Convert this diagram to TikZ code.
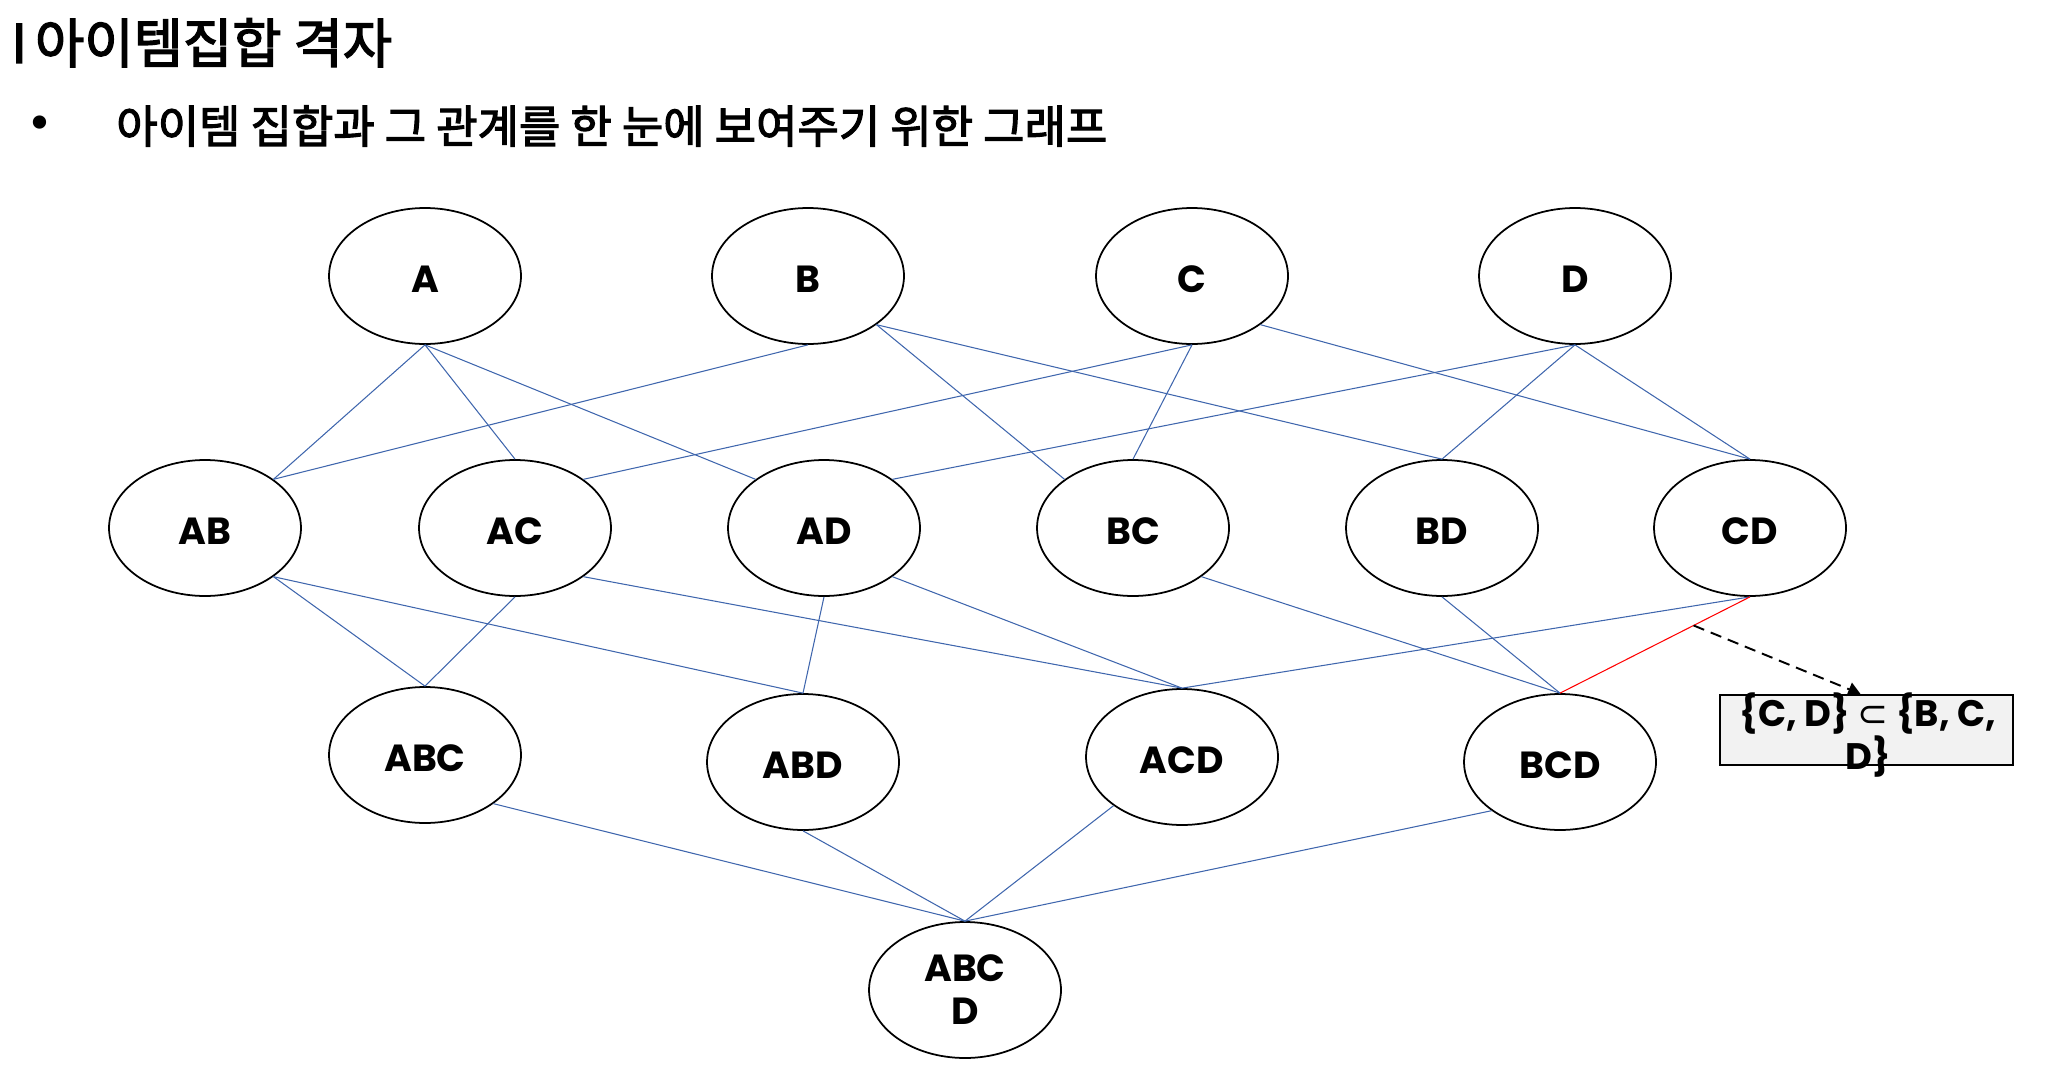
\documentclass[tikz,border=0pt]{standalone}
\usepackage{fontspec}
\setmainfont{Poppins}
\newfontfamily\kr{Noto Sans CJK KR}[FakeBold=2.5]
\newfontfamily\djv{DejaVu Sans}
\usetikzlibrary{arrows.meta,calc,shapes.geometric}
\definecolor{edgeblue}{HTML}{3F66AD}
\definecolor{notegray}{HTML}{F2F2F2}
\begin{document}
\begin{tikzpicture}[x=0.02cm,y=-0.02cm,
  setbase/.style={ellipse, draw=black, line width=1pt, minimum width=3.84cm,
    minimum height=2.72cm, inner sep=0pt, align=center,
    font=\fontsize{21.5}{24.4}\selectfont\bfseries},
  setnode/.style={setbase, text height=18.5pt, text depth=0pt},
  link/.style={draw=edgeblue, line width=0.6pt},
  hot/.style={draw=red, line width=0.6pt},
  notebox/.style={draw=black, fill=notegray, line width=1.2pt, minimum width=5.86cm,
    minimum height=1.4cm, inner sep=0pt},
  notetext/.style={align=center, inner sep=0pt, font=\fontsize{21}{24.4}\selectfont\bfseries}]
\useasboundingbox (0,0) rectangle (2064,1078);
% title
\node[anchor=base west, inner sep=0pt, font=\kr\fontsize{30.5}{33}\selectfont] (title) at (11,63) {I\hskip0.15em 아이템집합 격자};
\node[anchor=center, inner sep=0pt, font=\djv\fontsize{26}{28}\selectfont] (dot) at (40,128) {•};
\node[anchor=base west, inner sep=0pt, font=\kr\fontsize{25.6}{28}\selectfont] (sub) at (116,143) {아이템 집합과 그 관계를 한 눈에 보여주기 위한 그래프};
% nodes
\node[setnode] (A) at (425,276) {A};
\node[setnode] (B) at (808,276) {B};
\node[setnode] (C) at (1192,276) {C};
\node[setnode] (D) at (1575,276) {D};
\node[setnode] (AB) at (205,528) {AB};
\node[setnode] (AC) at (515,528) {AC};
\node[setnode] (AD) at (824,528) {AD};
\node[setnode] (BC) at (1133,528) {BC};
\node[setnode] (BD) at (1442,528) {BD};
\node[setnode] (CD) at (1750,528) {CD};
\node[setnode] (ABC) at (425,755) {ABC};
\node[setnode] (ABD) at (803,762) {ABD};
\node[setnode] (ACD) at (1182,757) {ACD};
\node[setnode] (BCD) at (1560,762) {BCD};
\node[setbase] (ABCD) at (965,990) {ABC\\D};
% edges level 1-2
\draw[link] (A.south) -- (AB.north east);
\draw[link] (A.south) -- (AC.north);
\draw[link] (A.south) -- (AD.north west);
\draw[link] (B.south) -- (AB.north east);
\draw[link] (B.south east) -- (BC.north west);
\draw[link] (B.south east) -- (BD.north);
\draw[link] (C.south) -- (AC.north east);
\draw[link] (C.south) -- (BC.north);
\draw[link] (C.south east) -- (CD.north);
\draw[link] (D.south) -- (AD.north east);
\draw[link] (D.south) -- (BD.north);
\draw[link] (D.south) -- (CD.north);
% edges level 2-3
\draw[link] (AB.south east) -- (ABC.north);
\draw[link] (AB.south east) -- (ABD.north);
\draw[link] (AC.south) -- (ABC.north);
\draw[link] (AC.south east) -- (ACD.north);
\draw[link] (AD.south) -- (ABD.north);
\draw[link] (AD.south east) -- (ACD.north);
\draw[link] (BC.south east) -- (BCD.north);
\draw[link] (BD.south) -- (BCD.north);
\draw[link] (CD.south) -- (ACD.north);
\draw[hot] (CD.south) -- coordinate[pos=0.297] (hotmark) (BCD.north);
% edges level 3-4
\draw[link] (ABC.south east) -- (ABCD.north);
\draw[link] (ABD.south) -- (ABCD.north);
\draw[link] (ACD.south west) -- (ABCD.north);
\draw[link] (BCD.south west) -- (ABCD.north);
% note
\node[notebox] (note) at (1866.5,730) {};
\node[notetext] (notetxt) at (1868,735) {\{C, D\} {\djv\mdseries ⊂} \{B, C,\\D\}};
\draw[line width=1.1pt, dash pattern=on 6.5pt off 4pt, -{Triangle[length=7pt,width=8pt]}] (hotmark) -- ($(note.north)+(-6,0)$);
\end{tikzpicture}
\end{document}
